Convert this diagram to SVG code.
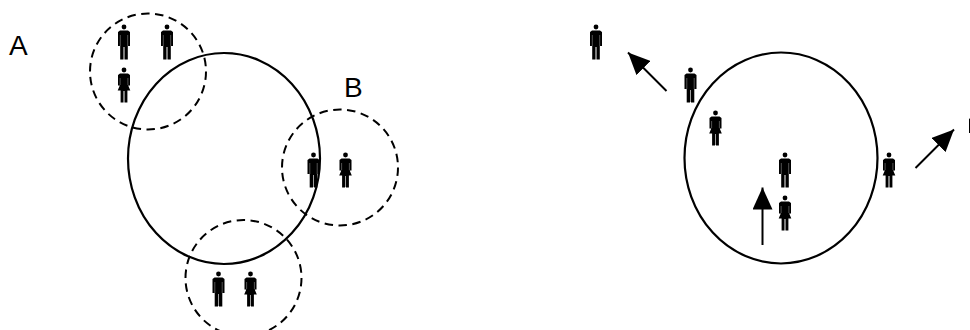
<svg xmlns="http://www.w3.org/2000/svg" xmlns:xlink="http://www.w3.org/1999/xlink" width="970" height="330" viewBox="0 0 970 330">
<style>
.solid{fill:none;stroke:#000;stroke-width:2.2}
.dash{fill:none;stroke:#000;stroke-width:2;stroke-dasharray:8.500 5.500}
.lbl{font-family:"Liberation Sans",Arial,sans-serif;font-size:28px;fill:#000}
.line{stroke:#000;stroke-width:2;fill:none}
.gap{stroke:#777;stroke-width:.7;fill:none}
</style>
<defs>
<marker id="ah" viewBox="0 0 22 20" refX="22" refY="10" markerWidth="22" markerHeight="20" markerUnits="userSpaceOnUse" orient="auto"><path d="M0 0L22 10L0 20Z" fill="#000"/></marker>
<g id="man">
<circle cx="0" cy="0" r="2.4" fill="#000"/>
<path d="M-4 3.5H4L6 5V19H3.8V32.5H.5V20H-.5V32.5H-3.8V19H-6V5Z" fill="#000"/>
<path class="gap" d="M-3.700 8V19M3.700 8V19M0 20V32"/>
</g>
<g id="woman">
<circle cx="0" cy="0" r="2.4" fill="#000"/>
<path d="M-4 3.5H4L6 5V15.500H4.200L6.300 20.500H3.400V32.500H.5V21H-.5V32.500H-3.400V20.500H-6.300L-4.200 15.500H-6V5Z" fill="#000"/>
<path class="gap" d="M-3.900 8V15M3.900 8V15M0 21V32"/>
</g>
</defs>
<g id="circles-left">
<ellipse id="main-left" class="solid" cx="224" cy="158.500" rx="96" ry="105.500"/>
<circle id="group-a" class="dash" cx="148" cy="71.500" r="58"/>
<circle id="group-b" class="dash" cx="340" cy="167.500" r="58"/>
<circle id="group-c" class="dash" cx="243.500" cy="278" r="58"/>
</g>
<ellipse id="main-right" class="solid" cx="781" cy="158" rx="96.500" ry="105.500"/>
<g id="label-a"><text class="lbl" x="9" y="55">A</text></g>
<g id="label-b"><text class="lbl" x="344" y="97">B</text></g>
<g id="p1"><use xlink:href="#man" href="#man" x="124" y="27"/></g>
<g id="p2"><use xlink:href="#man" href="#man" x="167" y="27"/></g>
<g id="p3"><use xlink:href="#woman" href="#woman" x="124" y="70"/></g>
<g id="p4"><use xlink:href="#man" href="#man" x="313.500" y="155"/></g>
<g id="p5"><use xlink:href="#woman" href="#woman" x="345.500" y="155"/></g>
<g id="p6"><use xlink:href="#man" href="#man" x="218.500" y="274"/></g>
<g id="p7"><use xlink:href="#woman" href="#woman" x="250.500" y="274"/></g>
<g id="p8"><use xlink:href="#man" href="#man" x="596" y="27"/></g>
<g id="p9"><use xlink:href="#man" href="#man" x="690.500" y="70"/></g>
<g id="p10"><use xlink:href="#woman" href="#woman" x="715.500" y="113"/></g>
<g id="p11"><use xlink:href="#man" href="#man" x="785" y="155"/></g>
<g id="p12"><use xlink:href="#woman" href="#woman" x="785" y="198"/></g>
<g id="p13"><use xlink:href="#woman" href="#woman" x="889" y="155"/></g>
<g id="p14"><use xlink:href="#man" href="#man" x="975" y="114"/></g>
<g id="connectors">
<path class="line" marker-end="url(#ah)" d="M666.500 91L628 52.500"/>
<path class="line" marker-end="url(#ah)" d="M762.500 245V187.500"/>
<path class="line" marker-end="url(#ah)" d="M915.500 168L954 129.500"/>
</g>
</svg>
